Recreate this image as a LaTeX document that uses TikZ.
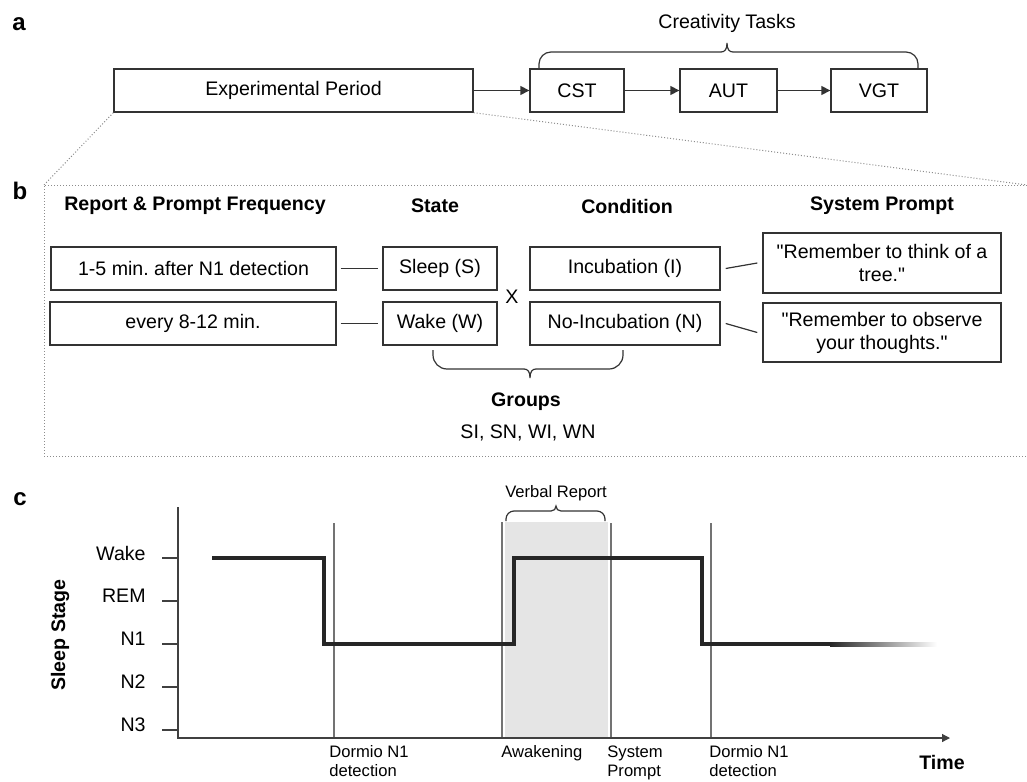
\documentclass[tikz,border=0pt]{standalone}
\usepackage{fontspec}
\setmainfont{Liberation Sans}[Ligatures=TeXOff]
\usetikzlibrary{arrows.meta}

\begin{document}
\frenchspacing
\begin{tikzpicture}[
  x=0.5pt, y=-0.5pt,
  txt/.style={font=\fontsize{9.8}{11.5}\selectfont},
  box/.style={txt, draw=black!80, line width=0.7pt, inner sep=0pt,
    minimum height=21.5pt},
  head/.style={font=\fontsize{9.8}{11.5}\selectfont\bfseries},
  panel/.style={font=\fontsize{12}{14}\selectfont\bfseries},
  arrow/.style={-{Triangle[length=4.5pt,width=4.5pt]}, line width=0.75pt, draw=black!80},
  zoomline/.style={densely dotted, draw=black!45, line width=0.5pt},
  brc/.style={line width=0.6pt, draw=black!80},
  link/.style={line width=0.6pt, draw=black!80},
  axis/.style={line width=0.6pt, draw=black!75},
  event/.style={line width=0.75pt, draw=black!55},
  stage/.style={line width=2pt, draw=black!85},
  small/.style={font=\fontsize{8.3}{9.5}\selectfont},
  evlabel/.style={small, anchor=north west, align=left, inner sep=0pt},
  level/.style={txt, anchor=east, inner sep=0pt},
]

\useasboundingbox (0,0) rectangle (1027,781);

%% a: experimental period and tasks
\node[panel] (pa) at (19,24) {a};
\node[box, minimum width=179.5pt] (ep) at (293.5,90.5) {Experimental Period};
\node[box, minimum width=47pt] (cst) at (577,90.5) {CST};
\node[box, minimum width=48.5pt] (aut) at (728.5,90.5) {AUT};
\node[box, minimum width=48pt] (vgt) at (879,90.5) {VGT};
\node[txt] (tasks) at (727,23) {Creativity Tasks};

\draw[arrow] (ep.east) -- (cst.west);
\draw[arrow] (cst.east) -- (aut.west);
\draw[arrow] (aut.east) -- (vgt.west);

%% brace over the tasks
\draw[brc, rounded corners=6pt] (539,69) |- (721,52);
\draw[brc] (721,52) .. controls (725,52) and (727,49) .. (727,43)
  .. controls (727,49) and (729,52) .. (733,52);
\draw[brc, rounded corners=6pt] (733,52) -| (918,69);

%% zoom into panel b
\draw[zoomline] (1027,185) -- (44,185) -- (44,456) -- (1027,456);
\draw[zoomline] (ep.south west) -- (44,185);
\draw[zoomline] (ep.south east) -- (1027,185);

%% b: design
\node[panel] (pb) at (20,191) {b};
\node[head] (hfreq) at (195,206) {Report \& Prompt Frequency};
\node[head] (hstate) at (435,206) {State};
\node[head] (hcond) at (627,206) {Condition};
\node[head] (hprompt) at (882,206) {System Prompt};

\node[box, minimum width=142.5pt] (f1) at (193.5,268.5) {1-5 min. after N1 detection};
\node[box, minimum width=143pt] (f2) at (193,323.5) {every 8-12 min.};
\node[box, minimum width=57pt] (s1) at (440,268.5) {Sleep (S)};
\node[box, minimum width=57pt] (s2) at (440,323.5) {Wake (W)};
\node[txt] (times) at (512,297) {X};
\node[box, minimum width=95pt] (c1) at (625,268.5) {Incubation (I)};
\node[box, minimum width=95pt] (c2) at (625,323.5) {No-Incubation (N)};
\node[box, minimum width=119pt, minimum height=30pt, align=center] (p1) at (882,263)
  {"Remember to think of a\\tree."};
\node[box, minimum width=119pt, minimum height=29.5pt, align=center] (p2) at (882,332.5)
  {"Remember to observe\\your thoughts."};

\draw[link] ([xshift=2pt]f1.east) -- ([xshift=-2pt]s1.west);
\draw[link] ([xshift=2pt]f2.east) -- ([xshift=-2pt]s2.west);
\draw[link] ([xshift=2.5pt]c1.east) -- ([xshift=-2.5pt]p1.west);
\draw[link] ([xshift=2.5pt]c2.east) -- ([xshift=-2.5pt]p2.west);

%% groups brace
\draw[brc, rounded corners=7pt] (433,350) |- (524,369);
\draw[brc] (524,369) .. controls (528,369) and (530,372) .. (530,378)
  .. controls (530,372) and (532,369) .. (536,369);
\draw[brc, rounded corners=7pt] (536,369) -| (623,350);
\node[head] (groups) at (526,402) {Groups};
\node[txt] (members) at (528,433) {SI, SN, WI, WN};

%% c: sleep stages over time
\node[panel] (pc) at (20,499) {c};
\fill[black!10] (505,522) rectangle (608,738);
\draw[event] (334,523) -- (334,738);
\draw[event] (502,522) -- (502,738);
\draw[event] (611,523) -- (611,738);
\draw[event] (711,523) -- (711,738);

\draw[axis, -{Triangle[length=4pt,width=4pt]}] (178,507) -- (178,738) -- (950,738);
\draw[axis] (162,558) -- (178,558);
\draw[axis] (162,601) -- (178,601);
\draw[axis] (162,644) -- (178,644);
\draw[axis] (162,687) -- (178,687);
\draw[axis] (162,730) -- (178,730);
\node[level] (wake) at (146,553) {Wake};
\node[level] (rem) at (146,596) {REM};
\node[level] (n1) at (146,639) {N1};
\node[level] (n2) at (146,682) {N2};
\node[level] (n3) at (146,725) {N3};
\node[head, rotate=90] (ystage) at (60,635) {Sleep Stage};

%% hypnogram
\draw[stage] (212,558) -- (324,558) -- (324,644) -- (514,644) -- (514,558)
  -- (702,558) -- (702,644) -- (830,644);
\shade[left color=black!85, right color=white] (830,642) rectangle (937,646);

%% verbal report brace
\draw[brc, rounded corners=4pt] (506,521) |- (551,511);
\draw[brc] (551,511) .. controls (554,511) and (556,509) .. (556,506)
  .. controls (556,509) and (558,511) .. (561,511);
\draw[brc, rounded corners=4pt] (561,511) -| (605,521);
\node[small] (verbal) at (556,493) {Verbal Report};

%% events
\node[evlabel] (ev1) at (329,745) {Dormio N1\\detection};
\node[evlabel] (ev2) at (501,745) {Awakening};
\node[evlabel] (ev3) at (607,745) {System\\Prompt};
\node[evlabel] (ev4) at (709,745) {Dormio N1\\detection};
\node[head] (time) at (942,762) {Time};

\end{tikzpicture}
\end{document}
